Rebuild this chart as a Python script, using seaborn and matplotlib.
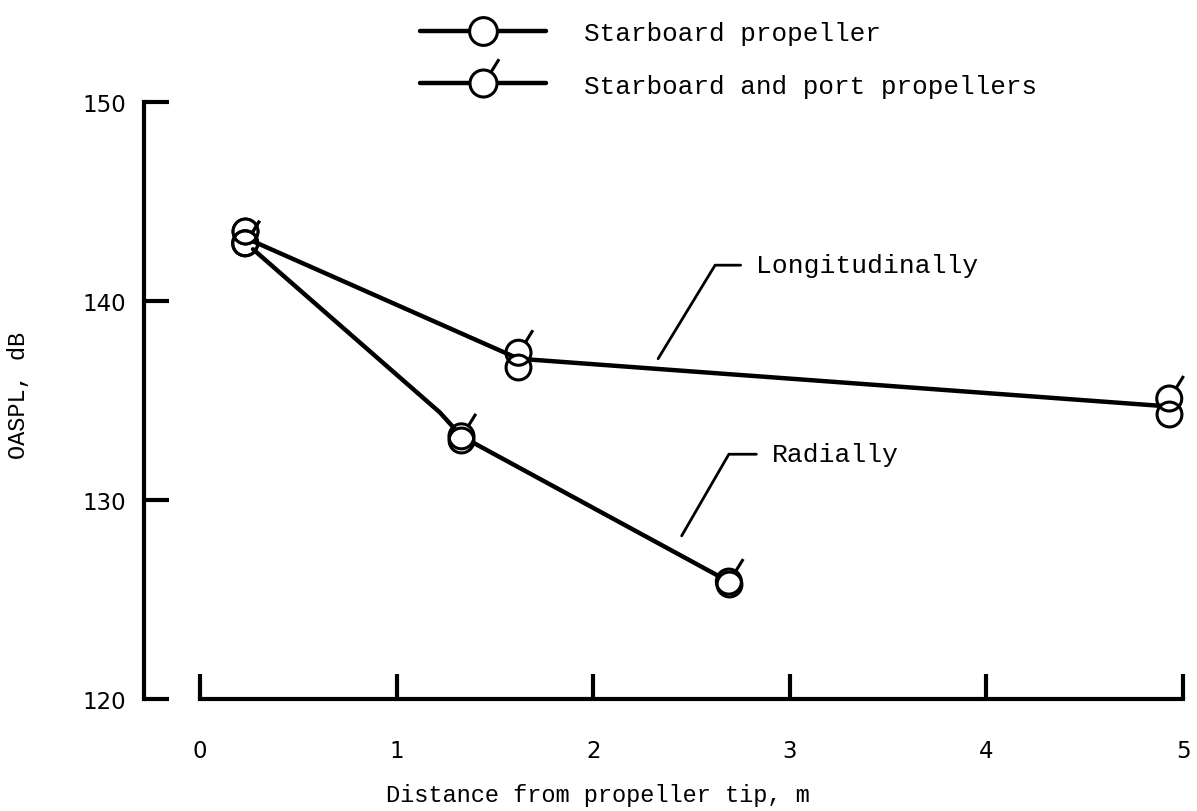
import matplotlib
matplotlib.use("Agg")
import matplotlib.pyplot as plt
from matplotlib.path import Path
from matplotlib.lines import Line2D
import seaborn as sns
import pandas as pd

# measured points (OASPL, dB) vs distance from propeller tip (m)
long_x = [0.23, 1.62, 4.93]
long_starboard = [143.5, 136.7, 134.3]
long_both = [142.9, 137.4, 135.1]

rad_x = [0.23, 1.33, 2.69]
rad_starboard = [143.5, 133.0, 125.8]
rad_both = [142.9, 133.2, 125.9]

# faired curves drawn through the data
long_fair_x = [0.27, 1.62, 4.93]
long_fair_y = [143.0, 137.1, 134.7]
rad_fair_x = [0.27, 1.22, 1.33, 2.69]
rad_fair_y = [142.6, 134.4, 133.2, 125.9]

sns.set_style("white")
plt.rcParams["font.family"] = ["Liberation Mono", "DejaVu Sans"]
plt.rcParams["text.color"] = "black"
plt.rcParams["axes.labelcolor"] = "black"

fig = plt.figure(figsize=(11.97, 8.12), dpi=100)
ax = fig.add_axes([200 / 1197, 112 / 812, 983 / 1197, 597 / 812])

# circle with a little flag = both propellers
flag = Path([(0.55, 0.83), (1.15, 1.8)], [Path.MOVETO, Path.LINETO])
flagged = Path.make_compound_path(Path.unit_circle(), flag)

sns.lineplot(x=long_fair_x, y=long_fair_y, ax=ax, color="black", lw=3.2,
             sort=False, clip_on=False)
sns.lineplot(x=rad_fair_x, y=rad_fair_y, ax=ax, color="black", lw=3.2,
             sort=False, clip_on=False)

sb = pd.DataFrame({"x": long_x + rad_x, "y": long_starboard + rad_starboard})
bo = pd.DataFrame({"x": long_x + rad_x, "y": long_both + rad_both})
sns.scatterplot(data=sb, x="x", y="y", ax=ax, marker="o", s=320,
                facecolor="white", edgecolor="black", linewidth=2.2,
                clip_on=False, zorder=5)
sns.scatterplot(data=bo, x="x", y="y", ax=ax, marker=flagged, s=1050,
                facecolor="none", edgecolor="black", linewidth=2.2,
                clip_on=False, zorder=6)

ax.set_xlim(0, 5)
ax.set_ylim(120, 150)
ax.set_xticks([0, 1, 2, 3, 4, 5])
ax.set_yticks([120, 130, 140, 150])
for s in ["top", "right"]:
    ax.spines[s].set_visible(False)
ax.spines["left"].set_position(("outward", 40))
for s in ["left", "bottom"]:
    ax.spines[s].set_linewidth(3)
    ax.spines[s].set_color("black")
ax.tick_params(axis="both", direction="in", length=18, width=3, color="black",
               labelsize=16.5, bottom=True, left=True, labelcolor="black")
ax.tick_params(axis="x", pad=29)
ax.tick_params(axis="y", pad=13)
for lab in ax.get_xticklabels() + ax.get_yticklabels():
    lab.set_family("DejaVu Sans")

ax.set_xlabel("Distance from propeller tip, m", fontsize=17)
ax.set_ylabel("OASPL, dB", fontsize=17)
ax.xaxis.set_label_coords(0.405, -0.14)
ax.yaxis.set_label_coords(-0.173, 0.51)

# leader lines and labels
ax.plot([2.33, 2.62, 2.75], [137.1, 141.8, 141.8], color="black", lw=2)
ax.text(2.83, 141.8, "Longitudinally", fontsize=19, va="center")
ax.plot([2.45, 2.69, 2.83], [128.2, 132.3, 132.3], color="black", lw=2)
ax.text(2.91, 132.3, "Radially", fontsize=19, va="center")

handles = [
    Line2D([], [], color="black", lw=3.2, marker="o", markersize=20,
           mfc="white", mec="black", mew=2.2),
    Line2D([], [], color="black", lw=3.2, marker=flagged, markersize=35,
           mfc="white", mec="black", mew=2.2),
]
fig.legend(handles, ["Starboard propeller", "Starboard and port propellers"],
           loc="upper left", bbox_to_anchor=(420 / 1197, 1 - 22 / 812),
           frameon=False, fontsize=18.7, handlelength=4.85, handletextpad=1.45,
           labelspacing=1.1, borderpad=0, borderaxespad=0, markerscale=1)

fig.savefig("out.png", dpi=100)
